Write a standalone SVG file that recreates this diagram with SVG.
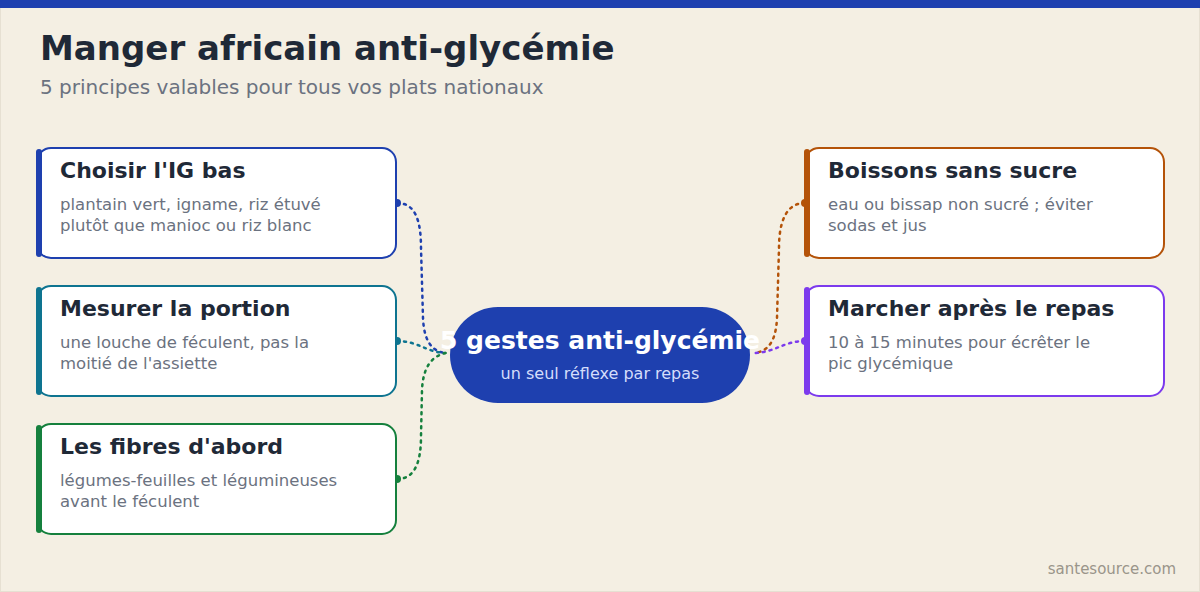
<svg xmlns="http://www.w3.org/2000/svg" width="1200" height="592" viewBox="0 0 1200 592">
<style>
.bg{fill:#f4efe3}
.card{fill:#ffffff;stroke-width:2}
.ttl{font-family:"DejaVu Sans",sans-serif;font-weight:bold;font-size:22px;fill:#1f2937}
.desc{font-family:"DejaVu Sans",sans-serif;font-size:16.5px;fill:#6b7280}
.conn{fill:none;stroke-width:2.5;stroke-dasharray:2 5;stroke-linecap:round}
</style>
<rect class="bg" x="0" y="0" width="1200" height="592"/>
<rect x="0.5" y="0.5" width="1199" height="591" fill="none" stroke="#e6e0d2"/>
<rect x="0" y="0" width="1200" height="8" fill="#1e40af"/>
<text x="40" y="60" font-family="DejaVu Sans, sans-serif" font-weight="bold" font-size="34" fill="#1f2937">Manger africain anti-glycémie</text>
<text x="40" y="94" font-family="DejaVu Sans, sans-serif" font-size="20" fill="#6b7280">5 principes valables pour tous vos plats nationaux</text>

<g id="connectors">
<path class="conn" stroke="#1e40af" d="M397,203 C416,203 421,222 421,248 L423,318 C424,340 431,351 445,353"/>
<path class="conn" stroke="#0e7490" d="M397,341 C418,341 426,352 445,353"/>
<path class="conn" stroke="#15803d" d="M397,479 C416,479 421,460 421,436 L422,390 C423,368 431,356 446,353"/>
<path class="conn" stroke="#b45309" d="M805,203 C786,203 779,222 779,248 L777,318 C776,340 769,351 755,353"/>
<path class="conn" stroke="#7c3aed" d="M805,341 C784,341 776,352 755,353"/>
<circle cx="397" cy="203" r="4" fill="#1e40af"/>
<circle cx="397" cy="341" r="4" fill="#0e7490"/>
<circle cx="397" cy="479" r="4" fill="#15803d"/>
<circle cx="805" cy="203" r="4" fill="#b45309"/>
<circle cx="805" cy="341" r="4" fill="#7c3aed"/>
</g>

<g id="center">
<rect x="450" y="307" width="300" height="96" rx="48" fill="#1e40af"/>
<text x="600" y="349" text-anchor="middle" font-family="DejaVu Sans, sans-serif" font-weight="bold" font-size="25" fill="#ffffff">5 gestes anti-glycémie</text>
<text x="600" y="379" text-anchor="middle" font-family="DejaVu Sans, sans-serif" font-size="16" fill="#d4ddfb">un seul réflexe par repas</text>
</g>

<g id="node1">
<rect class="card" x="37" y="148" width="359" height="110" rx="14" stroke="#1e40af"/>
<rect x="36" y="149" width="6" height="108" rx="3" fill="#1e40af"/>
<text class="ttl" x="60" y="178">Choisir l'IG bas</text>
<text class="desc" x="60" y="210">plantain vert, igname, riz étuvé</text>
<text class="desc" x="60" y="231">plutôt que manioc ou riz blanc</text>
</g>
<g id="node2">
<rect class="card" x="37" y="286" width="359" height="110" rx="14" stroke="#0e7490"/>
<rect x="36" y="287" width="6" height="108" rx="3" fill="#0e7490"/>
<text class="ttl" x="60" y="316">Mesurer la portion</text>
<text class="desc" x="60" y="348">une louche de féculent, pas la</text>
<text class="desc" x="60" y="369">moitié de l'assiette</text>
</g>
<g id="node3">
<rect class="card" x="37" y="424" width="359" height="110" rx="14" stroke="#15803d"/>
<rect x="36" y="425" width="6" height="108" rx="3" fill="#15803d"/>
<text class="ttl" x="60" y="454">Les fibres d'abord</text>
<text class="desc" x="60" y="486">légumes-feuilles et légumineuses</text>
<text class="desc" x="60" y="507">avant le féculent</text>
</g>
<g id="node4">
<rect class="card" x="805" y="148" width="359" height="110" rx="14" stroke="#b45309"/>
<rect x="804" y="149" width="6" height="108" rx="3" fill="#b45309"/>
<text class="ttl" x="828" y="178">Boissons sans sucre</text>
<text class="desc" x="828" y="210">eau ou bissap non sucré ; éviter</text>
<text class="desc" x="828" y="231">sodas et jus</text>
</g>
<g id="node5">
<rect class="card" x="805" y="286" width="359" height="110" rx="14" stroke="#7c3aed"/>
<rect x="804" y="287" width="6" height="108" rx="3" fill="#7c3aed"/>
<text class="ttl" x="828" y="316">Marcher après le repas</text>
<text class="desc" x="828" y="348">10 à 15 minutes pour écrêter le</text>
<text class="desc" x="828" y="369">pic glycémique</text>
</g>

<text x="1176" y="574" text-anchor="end" font-family="DejaVu Sans, sans-serif" font-size="15" fill="#9a958a">santesource.com</text>
</svg>
